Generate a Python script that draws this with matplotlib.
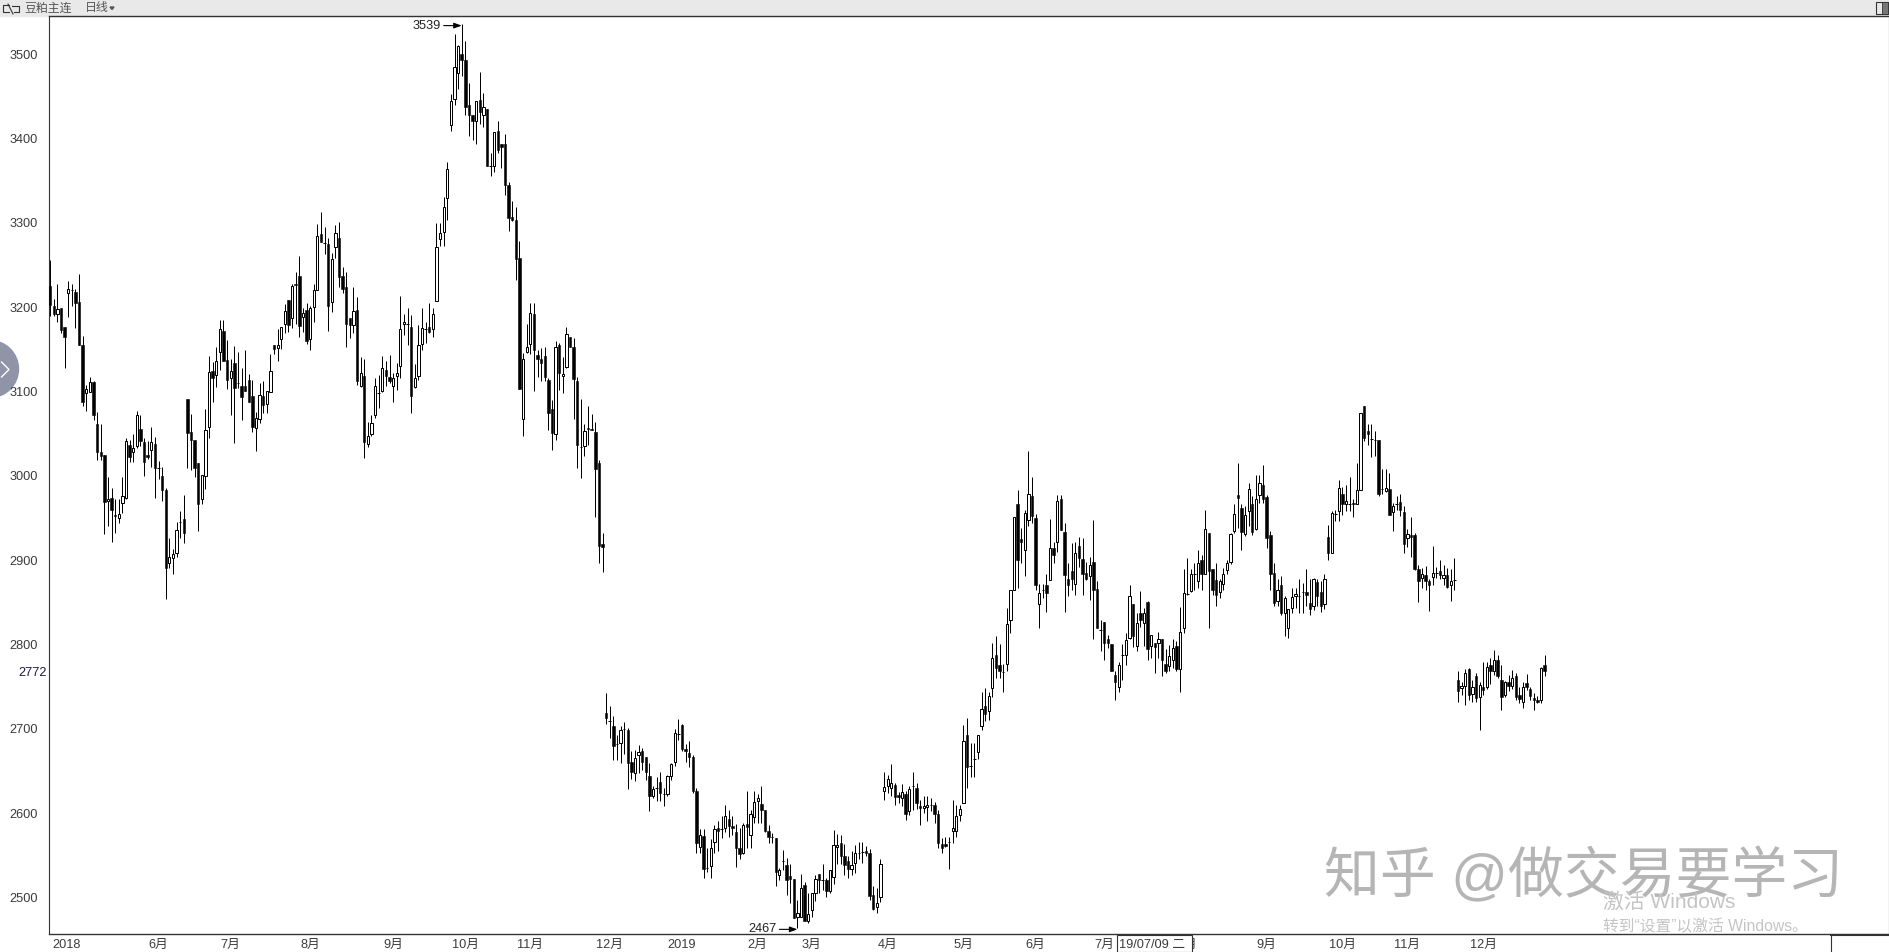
import matplotlib
matplotlib.use("Agg")
from matplotlib import pyplot as plt
from matplotlib.lines import Line2D
from matplotlib.patches import Rectangle, Circle, Polygon
import numpy as np

plt.rcParams['font.family'] = ['Liberation Sans', 'Noto Sans CJK SC']

# daily bars, one value per candle
opens = [
    3225,3202,3192,3199,3177,3217,3220,3218,3206,3155,
    3098,3099,3111,3061,3028,3025,2970,2974,2953,2950,
    2968,2974,3037,3028,3035,3056,3040,3025,3031,3038,
    3009,3000,2983,2896,2903,2909,2945,2949,3091,3052,
    3043,3015,2973,3000,3058,3124,3119,3147,3172,3137,
    3116,3134,3110,3107,3107,3114,3095,3057,3067,3095,
    3085,3099,3155,3152,3162,3180,3208,3187,3228,3237,
    3188,3197,3162,3200,3220,3287,3276,3275,3206,3271,
    3282,3237,3224,3187,3179,3197,3107,3118,3038,3049,
    3072,3098,3100,3126,3117,3107,3118,3130,3180,3180,
    3176,3105,3118,3156,3174,3177,3174,3207,3281,3289,
    3329,3416,3447,3478,3500,3493,3440,3428,3421,3446,
    3428,3435,3367,3367,3409,3393,3394,3345,3307,3304,
    3258,3067,3147,3156,3192,3143,3139,3142,3114,3079,
    3049,3155,3118,3129,3165,3153,3113,3034,3035,3057,
    3056,3052,3015,2919,2719,2709,2703,2682,2683,2700,
    2699,2661,2648,2669,2674,2666,2644,2620,2630,2637,
    2623,2623,2644,2661,2694,2705,2676,2671,2666,2626,
    2560,2573,2535,2537,2566,2582,2581,2582,2593,2585,
    2578,2559,2553,2587,2574,2595,2614,2611,2603,2579,
    2572,2570,2526,2543,2538,2525,2522,2477,2477,2515,
    2472,2485,2505,2528,2521,2521,2508,2524,2560,2564,
    2549,2543,2534,2541,2553,2554,2555,2553,2503,2489,
    2500,2626,2632,2630,2633,2621,2618,2622,2602,2632,
    2630,2608,2606,2607,2609,2609,2599,2563,2563,2566,
    2579,2579,2598,2612,2692,2656,2664,2672,2703,2727,
    2721,2748,2788,2776,2767,2777,2829,2864,2966,2925,
    2912,2947,2976,2950,2848,2864,2870,2876,2914,2921,
    2972,2933,2877,2887,2872,2917,2901,2885,2881,2898,
    2866,2817,2827,2807,2801,2764,2750,2787,2788,2808,
    2848,2798,2837,2825,2850,2798,2802,2802,2807,2777,
    2774,2782,2798,2771,2819,2860,2863,2883,2875,2900,
    2883,2932,2889,2876,2862,2872,2888,2898,2934,2977,
    2962,2931,2958,2966,2937,2977,2989,2975,2930,2885,
    2852,2870,2837,2820,2843,2857,2857,2862,2862,2849,
    2845,2874,2862,2848,2927,2908,2955,2958,2979,2966,
    2966,2968,2966,2983,3083,3053,3044,3043,3042,2984,
    2982,2984,2957,2966,2969,2957,2926,2930,2930,2889,
    2879,2882,2875,2880,2885,2887,2879,2882,2870,2876,
    2758,2748,2751,2771,2741,2763,2738,2750,2749,2776,
    2769,2781,2758,2740,2756,2751,2763,2740,2732,2754,
    2747,2736,2734,2734,2775,
]
closes = [
    3203,3192,3198,3173,3165,3221,3220,3205,3155,3087,
    3103,3111,3072,3028,3024,2969,2973,2960,2952,2955,
    2976,3041,3022,3033,3072,3041,3016,3022,3040,3009,
    3009,2983,2891,2904,2907,2936,2945,2932,3051,3042,
    3009,2966,3001,3054,3123,3116,3136,3174,3136,3114,
    3124,3104,3110,3094,3101,3088,3058,3068,3096,3084,
    3101,3124,3150,3155,3176,3196,3179,3225,3226,3178,
    3193,3160,3199,3220,3285,3277,3276,3202,3257,3288,
    3236,3221,3180,3179,3196,3112,3122,3040,3047,3063,
    3106,3098,3128,3118,3113,3116,3122,3174,3183,3180,
    3095,3116,3155,3175,3174,3170,3192,3271,3288,3319,
    3364,3444,3485,3510,3493,3438,3428,3421,3445,3432,
    3437,3367,3367,3408,3387,3390,3345,3306,3303,3257,
    3103,3138,3153,3193,3149,3139,3134,3117,3075,3051,
    3153,3122,3121,3168,3153,3115,3036,3034,3053,3055,
    3054,3008,2917,2916,2713,2709,2680,2682,2699,2700,
    2659,2649,2665,2672,2661,2649,2620,2628,2630,2624,
    2623,2644,2658,2695,2694,2676,2673,2667,2626,2565,
    2574,2534,2535,2558,2581,2579,2581,2596,2585,2582,
    2559,2551,2586,2584,2599,2613,2618,2603,2579,2572,
    2572,2530,2532,2543,2520,2522,2475,2482,2511,2472,
    2480,2505,2522,2520,2521,2508,2532,2562,2562,2549,
    2538,2534,2538,2553,2553,2554,2553,2501,2486,2493,
    2540,2631,2640,2636,2619,2619,2625,2599,2628,2632,
    2612,2606,2608,2609,2609,2599,2564,2558,2561,2566,
    2582,2597,2605,2686,2655,2656,2664,2693,2723,2717,
    2739,2784,2772,2769,2767,2824,2864,2951,2900,2921,
    2956,2979,2952,2871,2861,2864,2861,2914,2906,2970,
    2936,2882,2870,2877,2908,2903,2884,2877,2894,2864,
    2820,2817,2802,2802,2769,2756,2776,2787,2805,2857,
    2810,2825,2829,2837,2795,2811,2797,2806,2782,2768,
    2786,2796,2771,2815,2861,2860,2883,2883,2896,2883,
    2937,2887,2864,2859,2875,2884,2896,2931,2955,2974,
    2933,2954,2984,2933,2972,2991,2972,2926,2883,2849,
    2864,2837,2855,2842,2856,2860,2857,2862,2859,2842,
    2877,2858,2846,2877,2908,2956,2955,2985,2966,2970,
    2966,2966,2983,3074,3045,3049,3044,3043,2979,2984,
    2985,2953,2964,2966,2960,2919,2931,2928,2889,2875,
    2883,2875,2870,2885,2885,2882,2882,2868,2875,2876,
    2745,2751,2766,2740,2749,2737,2752,2746,2773,2769,
    2781,2762,2738,2756,2751,2760,2738,2735,2749,2750,
    2739,2734,2732,2772,2769,
]
highs = [
    3256,3210,3228,3199,3177,3231,3228,3222,3239,3166,
    3108,3117,3112,3076,3061,3025,2998,2986,2973,2973,
    2998,3045,3043,3050,3077,3072,3045,3041,3058,3046,
    3017,3011,2986,2926,2913,2945,2958,2977,3091,3073,
    3043,3015,3001,3079,3142,3135,3153,3185,3185,3161,
    3139,3154,3147,3128,3149,3121,3114,3076,3110,3112,
    3101,3145,3155,3174,3176,3204,3208,3228,3242,3261,
    3199,3205,3202,3228,3299,3313,3295,3282,3264,3298,
    3301,3248,3242,3187,3224,3212,3141,3138,3064,3072,
    3116,3120,3142,3136,3143,3122,3134,3213,3192,3199,
    3191,3133,3179,3199,3183,3205,3199,3300,3300,3331,
    3372,3453,3524,3511,3536,3516,3466,3428,3445,3479,
    3454,3435,3383,3408,3421,3394,3406,3349,3326,3319,
    3278,3146,3180,3205,3205,3149,3151,3153,3116,3090,
    3160,3157,3141,3177,3165,3164,3117,3091,3062,3083,
    3073,3064,3019,2932,2742,2727,2715,2693,2703,2708,
    2701,2673,2675,2681,2677,2666,2659,2632,2643,2649,
    2630,2645,2659,2700,2711,2706,2682,2685,2669,2630,
    2581,2581,2558,2569,2586,2591,2596,2609,2604,2596,
    2587,2582,2588,2626,2604,2626,2622,2632,2603,2586,
    2576,2570,2535,2556,2547,2539,2522,2497,2528,2518,
    2505,2505,2526,2528,2539,2523,2532,2580,2575,2574,
    2563,2549,2555,2562,2566,2566,2561,2557,2513,2511,
    2545,2649,2645,2658,2636,2625,2634,2626,2632,2649,
    2636,2616,2620,2620,2618,2613,2604,2570,2572,2572,
    2616,2610,2610,2704,2713,2683,2683,2693,2743,2748,
    2743,2802,2810,2801,2777,2843,2865,2951,2983,2938,
    2959,3029,2998,2955,2872,2872,2883,2949,2922,2977,
    2977,2944,2896,2920,2922,2928,2926,2898,2904,2947,
    2875,2829,2827,2811,2801,2769,2779,2800,2813,2871,
    2848,2837,2863,2843,2851,2811,2802,2815,2807,2794,
    2799,2807,2804,2844,2889,2902,2889,2896,2912,2906,
    2960,2932,2889,2896,2877,2891,2900,2932,2966,3015,
    2967,2964,2992,2976,3001,3001,3013,2977,2935,2896,
    2877,2881,2857,2842,2867,2867,2877,2873,2890,2877,
    2879,2877,2875,2883,2942,2958,2960,2995,2987,2989,
    2999,2973,3015,3074,3083,3062,3061,3053,3042,3008,
    3008,3003,2968,2976,2979,2964,2937,2951,2932,2894,
    2891,2893,2877,2917,2892,2900,2894,2891,2889,2902,
    2769,2755,2771,2772,2758,2766,2755,2779,2779,2784,
    2793,2788,2776,2757,2764,2770,2766,2750,2756,2765,
    2749,2742,2739,2773,2788,
]
lows = [
    3189,3189,3183,3169,3128,3188,3202,3175,3155,3083,
    3077,3099,3066,3019,3019,2931,2941,2922,2932,2944,
    2956,2972,3016,3016,3033,3035,3000,3020,3011,2974,
    2996,2970,2854,2891,2883,2904,2926,2920,3009,3007,
    2998,2934,2966,2984,3045,3088,3105,3126,3136,3103,
    3072,3039,3104,3066,3101,3088,3052,3030,3063,3074,
    3074,3099,3145,3136,3150,3169,3170,3175,3180,3165,
    3171,3156,3149,3183,3220,3277,3263,3172,3194,3258,
    3224,3217,3153,3163,3169,3108,3105,3021,3034,3047,
    3068,3080,3099,3107,3110,3088,3102,3116,3167,3155,
    3074,3104,3114,3149,3157,3169,3165,3207,3272,3272,
    3303,3409,3440,3459,3474,3428,3403,3398,3394,3417,
    3414,3367,3356,3360,3383,3365,3333,3290,3302,3232,
    3103,3047,3146,3145,3101,3117,3112,3112,3054,3031,
    3042,3102,3098,3128,3153,3067,3009,2997,3023,3036,
    3054,2951,2896,2886,2706,2689,2663,2663,2659,2670,
    2628,2640,2638,2647,2651,2639,2602,2618,2614,2614,
    2608,2620,2639,2656,2687,2673,2661,2655,2624,2553,
    2553,2523,2530,2523,2553,2555,2570,2577,2572,2574,
    2536,2545,2551,2558,2558,2588,2588,2588,2578,2565,
    2564,2513,2521,2533,2503,2493,2475,2464,2477,2472,
    2470,2477,2496,2505,2509,2500,2505,2516,2539,2539,
    2527,2523,2527,2529,2545,2541,2549,2497,2485,2481,
    2495,2615,2624,2620,2610,2612,2608,2592,2598,2604,
    2605,2586,2600,2591,2602,2588,2558,2553,2560,2534,
    2565,2572,2590,2612,2630,2643,2643,2664,2698,2709,
    2710,2738,2760,2760,2744,2769,2813,2864,2867,2896,
    2881,2940,2944,2864,2820,2855,2839,2876,2897,2910,
    2936,2838,2857,2864,2859,2892,2859,2876,2853,2807,
    2819,2792,2782,2796,2769,2734,2744,2758,2776,2806,
    2797,2792,2821,2798,2782,2784,2766,2784,2762,2766,
    2769,2772,2768,2744,2814,2859,2862,2865,2867,2865,
    2883,2819,2859,2845,2855,2865,2883,2895,2932,2938,
    2912,2929,2940,2930,2936,2968,2968,2914,2865,2845,
    2845,2835,2810,2808,2837,2843,2837,2837,2845,2835,
    2841,2845,2839,2842,2900,2908,2946,2946,2954,2958,
    2958,2951,2966,2983,3041,3037,3022,3023,2976,2979,
    2981,2953,2935,2960,2952,2909,2916,2904,2888,2850,
    2867,2865,2840,2871,2879,2877,2871,2867,2852,2865,
    2732,2740,2728,2734,2732,2732,2699,2740,2747,2753,
    2764,2760,2722,2738,2745,2747,2734,2730,2724,2746,
    2734,2722,2730,2731,2763,
]

price_ticks = [2500, 2600, 2700, 2800, 2900, 3000, 3100, 3200, 3300, 3400, 3500]
month_ticks = [4.5, 30, 50, 72, 95, 115, 133, 155, 175, 196, 211, 232, 253, 273, 292, 315, 337, 358, 376, 397]
month_labels = ['2018', '6月', '7月', '8月', '9月', '10月', '11月', '12月', '2019', '2月', '3月',
                '4月', '5月', '6月', '7月', '8月', '9月', '10月', '11月', '12月']

W, H = 1890, 952
DARK = '#333333'

def fx(px):
    return px / W

def fy(py):
    return 1 - py / H

def fig_line(xs, ys, color=DARK, lw=0.8, zorder=4):
    fig.add_artist(Line2D([fx(v) for v in xs], [fy(v) for v in ys], color=color, lw=lw,
                          transform=fig.transFigure, zorder=zorder))

fig = plt.figure(figsize=(W / 100, H / 100), dpi=100, facecolor='white')
ax = fig.add_axes([fx(49.5), fy(934), fx(1889 - 49.5), (934 - 16) / H])
ax.patch.set_alpha(0)

x = np.arange(len(opens))
o, c, h, l = map(np.array, (opens, closes, highs, lows))
ax.vlines(x, l, h, color='black', lw=0.72, zorder=2)

# rising bars hollow, falling bars solid, flat bars a plain dash
rising = c > o
falling = c < o
flat = c == o
ax.bar(x[rising], (c - o)[rising], bottom=o[rising], width=0.62,
       color='white', edgecolor='black', lw=0.72, zorder=3)
ax.bar(x[falling], (o - c)[falling], bottom=c[falling], width=0.68,
       color='black', edgecolor='black', lw=0.4, zorder=3)
ax.bar(x[flat], 0, bottom=o[flat], width=0.7, color='black', edgecolor='black', lw=0.72, zorder=3)

ax.set_xlim(-0.2, 509.4)
ax.set_ylim(2456.5, 3545.4)
ax.set_yticks(price_ticks)
ax.set_xticks(month_ticks)
ax.set_xticklabels(month_labels)
ax.tick_params(axis='y', length=0, pad=8.6, labelsize=9.2, labelcolor='#3a3a3a')
ax.tick_params(axis='x', length=0, pad=3.6, labelsize=9.2, labelcolor='#3a3a3a')
for name in ['top', 'bottom', 'left', 'right']:
    ax.spines[name].set_color(DARK)
    ax.spines[name].set_linewidth(1.0 if name in ('top', 'bottom') else 0.8)

# extreme price markers
arrow = dict(arrowstyle='-|>,head_length=0.5,head_width=0.18', color='black', lw=0.8, shrinkA=0, shrinkB=0)
ax.annotate('3539', xy=(114, 3534), xytext=(-15, 0), textcoords='offset points', ha='right', va='center',
            fontsize=9.2, color='#222222', arrowprops=arrow)
ax.annotate('2467', xy=(207, 2462), xytext=(-15, 0), textcoords='offset points', ha='right', va='center',
            fontsize=9.2, color='#222222', arrowprops=arrow, annotation_clip=False)

fig.text(fx(46.7), fy(672.5), '2772', ha='right', va='center', fontsize=9.2, color='#1a1a44')

# title bar
fig.add_artist(Rectangle((0, fy(15.5)), 1, 15.5 / H, transform=fig.transFigure, color='#e9e9e9', zorder=-1))
fig.text(fx(24), fy(8.5), '豆粕主连', ha='left', va='center', fontsize=8.6, color='#555555')
fig.text(fx(85), fy(8.5), '日线', ha='left', va='center', fontsize=8.6, color='#555555')
fig.add_artist(Polygon([[fx(110), fy(7)], [fx(114), fy(7)], [fx(112), fy(9.5)]],
                       transform=fig.transFigure, color='#555555', zorder=4))
fig_line([9, 3, 3, 9], [5, 5, 12, 12])
fig_line([8, 13], [4, 14])
fig_line([12, 19, 19, 14], [6, 6, 12, 12])
fig.add_artist(Rectangle((fx(1876), fy(13.5)), 12 / W, 12 / H, transform=fig.transFigure,
                         facecolor='#e8e8e8', edgecolor=DARK, lw=0.8, zorder=4))
fig.add_artist(Rectangle((fx(1882), fy(13.5)), 6 / W, 12 / H, transform=fig.transFigure,
                         facecolor='#777777', edgecolor=DARK, lw=0.6, zorder=4))

# side handle
fig.add_artist(Circle((-10, H - 369), 28.5, transform=None, color='#8f94a7', zorder=-1))
fig_line([1.5, 9, 1.5], [362, 369.5, 377], color='white', lw=1.0, zorder=1)

# date box on the axis, covers the 8月 label
fig.add_artist(Rectangle((fx(1117), 0), 75 / W, (952 - 935) / H, transform=fig.transFigure,
                         facecolor='white', edgecolor=DARK, lw=0.8, zorder=5))
fig.text(fx(1152), fy(944.5), '19/07/09 二', ha='center', va='center', fontsize=9.2, color='#3a3a3a', zorder=6)
fig_line([1831, 1831], [935, 952], lw=0.8)
fig_line([1831, 1889], [935, 935], lw=1.5)

# watermarks
fig.text(fx(1324), fy(877), '知乎 @做交易要学习', ha='left', va='center', fontsize=40.2,
         color='#b5b5b5', zorder=4)
fig.text(fx(1603), fy(902), '激活 Windows', ha='left', va='center', fontsize=15, color='#c4c4c4', zorder=4)
fig.text(fx(1603), fy(926), '转到“设置”以激活 Windows。', ha='left', va='center', fontsize=11.3,
         color='#c4c4c4', zorder=4)

fig.savefig('out.png', dpi=100)
